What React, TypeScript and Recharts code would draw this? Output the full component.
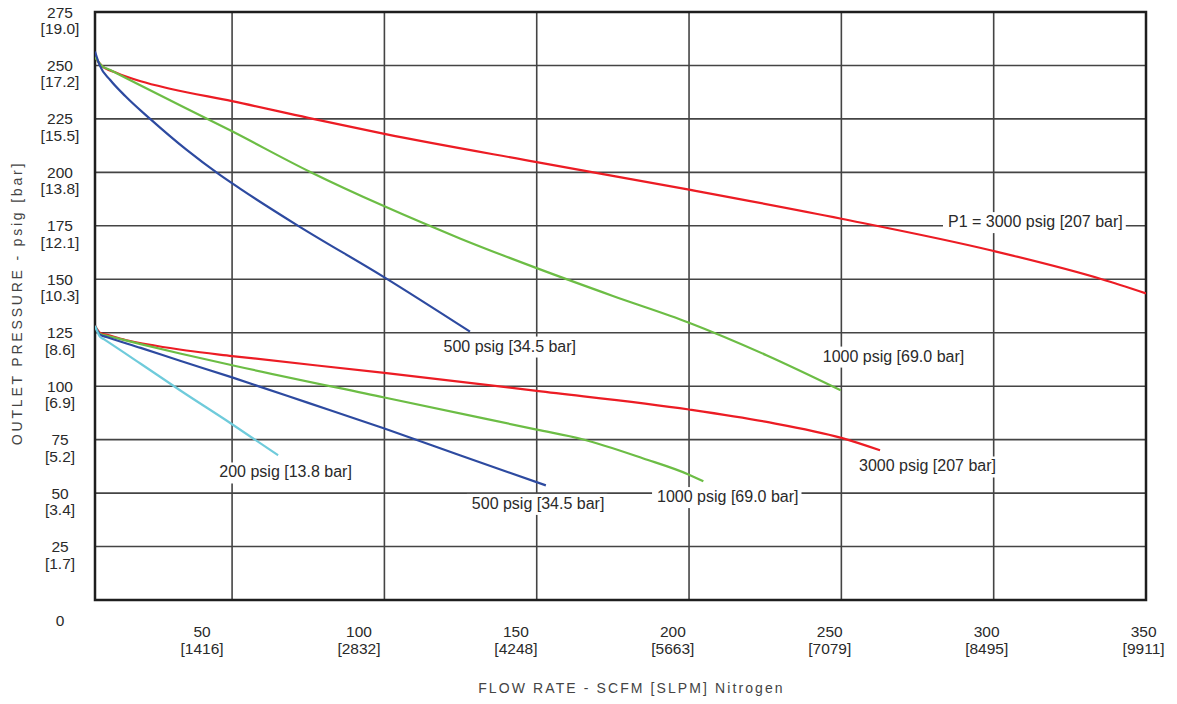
import { LineChart, Line, XAxis, YAxis, CartesianGrid, ReferenceArea, ReferenceDot } from 'recharts';

// axis ticks (SCFM with SLPM below, psig with bar below)
const X_TICKS = [50, 100, 150, 200, 250, 300, 350];
const X_TICK_SLPM = ['[1416]', '[2832]', '[4248]', '[5663]', '[7079]', '[8495]', '[9911]'];
const Y_TICKS = [0, 25, 50, 75, 100, 125, 150, 175, 200, 225, 250, 275];
const Y_TICK_BAR = ['', '[1.7]', '[3.4]', '[5.2]', '[6.9]', '[8.6]', '[10.3]', '[12.1]', '[13.8]', '[15.5]', '[17.2]', '[19.0]'];

// outlet set at 250 psig
const HIGH_3000 = [
  { x: 5, y: 254 }, { x: 7.1, y: 250 }, { x: 12, y: 246.6 }, { x: 20, y: 242.6 }, { x: 30, y: 239 },
  { x: 50, y: 233.3 }, { x: 75, y: 225.5 }, { x: 100, y: 218 }, { x: 150, y: 204.8 },
  { x: 200, y: 191.9 }, { x: 250, y: 178.3 }, { x: 300, y: 163.2 }, { x: 335.5, y: 150 },
  { x: 350, y: 143.4 },
];
const HIGH_1000 = [
  { x: 5, y: 254 }, { x: 7.1, y: 250 }, { x: 10, y: 247.9 }, { x: 20, y: 240.6 }, { x: 50, y: 219.2 },
  { x: 75.5, y: 200.3 }, { x: 100, y: 184.1 }, { x: 125, y: 169 }, { x: 150, y: 155.2 },
  { x: 175, y: 142.2 }, { x: 200, y: 129.7 }, { x: 225.4, y: 114.5 }, { x: 249.8, y: 98.1 },
];
const HIGH_500 = [
  { x: 5, y: 256.5 }, { x: 6.55, y: 250 }, { x: 10, y: 243.2 }, { x: 15, y: 235.6 }, { x: 23.1, y: 225 },
  { x: 35, y: 210.6 }, { x: 46, y: 198.8 }, { x: 52.6, y: 192.4 }, { x: 71.7, y: 175 },
  { x: 100, y: 150.9 }, { x: 128.1, y: 125.5 },
];

// outlet set at 125 psig
const LOW_3000 = [
  { x: 5, y: 128.2 }, { x: 6.7, y: 124.9 }, { x: 9, y: 124 }, { x: 15, y: 121.6 }, { x: 25, y: 118.9 },
  { x: 35, y: 116.7 }, { x: 50, y: 114.1 }, { x: 100, y: 106.25 }, { x: 150, y: 97.8 },
  { x: 200, y: 89.1 }, { x: 225, y: 83.4 }, { x: 250, y: 75.8 }, { x: 262.7, y: 70 },
];
const LOW_1000 = [
  { x: 5, y: 128.2 }, { x: 6.7, y: 124.4 }, { x: 9, y: 123.6 }, { x: 20, y: 119.7 }, { x: 32.9, y: 115.3 },
  { x: 50, y: 109.8 }, { x: 100, y: 94.7 }, { x: 150, y: 79.7 }, { x: 165, y: 75.2 },
  { x: 185, y: 66.2 }, { x: 200, y: 58.6 }, { x: 204.7, y: 55.5 },
];
const LOW_500 = [
  { x: 5, y: 128.2 }, { x: 6.7, y: 124 }, { x: 9, y: 122.9 }, { x: 20, y: 117.9 }, { x: 32.9, y: 111.9 },
  { x: 50, y: 104.1 }, { x: 75, y: 92.2 }, { x: 100, y: 80.2 }, { x: 125, y: 67.6 }, { x: 153, y: 53.6 },
];
const LOW_200 = [
  { x: 5, y: 128.2 }, { x: 6.6, y: 123.2 }, { x: 8, y: 121.9 }, { x: 20, y: 110.5 }, { x: 32.9, y: 98.1 },
  { x: 50, y: 82.2 }, { x: 65.1, y: 67.7 },
];

// curve annotations (left end of text baseline, in chart units)
const CURVE_LABELS = [
  { text: 'P1 = 3000 psig [207 bar]', x: 285, y: 174.4 },
  { text: '500 psig [34.5 bar]', x: 119.4, y: 116.2 },
  { text: '1000 psig [69.0 bar]', x: 243.9, y: 111.5 },
  { text: '3000 psig [207 bar]', x: 255.8, y: 60.1 },
  { text: '500 psig [34.5 bar]', x: 128.7, y: 42.6 },
  { text: '1000 psig [69.0 bar]', x: 189.5, y: 45.8 },
  { text: '200 psig [13.8 bar]', x: 45.8, y: 57.3 },
];

const RED = '#ec1c24';
const GREEN = '#6cbd45';
const BLUE = '#2d4aa0';
const CYAN = '#6fcbdb';
const TEXT = '#2a2a2a';
const FONT = '"Liberation Sans", Arial, sans-serif';
const TICK_SIZE = 15.5;
const LABEL_SIZE = 16;

let measureCtx: CanvasRenderingContext2D | null = null;
function textWidth(s: string) {
  if (!measureCtx) measureCtx = document.createElement('canvas').getContext('2d');
  if (!measureCtx) return s.length * 8;
  measureCtx.font = `${LABEL_SIZE}px "Liberation Sans"`;
  return measureCtx.measureText(s).width;
}

function XTick(props: any) {
  const { x, payload } = props;
  const i = X_TICKS.indexOf(payload.value);
  // printed labels drift left of their grid lines
  const cx = x - 30 + 4.6 * i;
  return (
    <g fontFamily={FONT} fontSize={TICK_SIZE} fill={TEXT} textAnchor="middle">
      <text x={cx} y={636.5}>{payload.value}</text>
      <text x={cx} y={653.5}>{X_TICK_SLPM[i]}</text>
    </g>
  );
}

function YTick(props: any) {
  const { y, payload } = props;
  const i = Y_TICKS.indexOf(payload.value);
  if (payload.value === 0) {
    return (
      <text x={60} y={y + 25.5} fontFamily={FONT} fontSize={TICK_SIZE} fill={TEXT} textAnchor="middle">0</text>
    );
  }
  return (
    <g fontFamily={FONT} fontSize={TICK_SIZE} fill={TEXT} textAnchor="middle">
      <text x={60} y={y + 5.5}>{payload.value}</text>
      <text x={60} y={y + 22}>{Y_TICK_BAR[i]}</text>
    </g>
  );
}

function curveLabel(text: string) {
  return (p: any) => {
    const w = textWidth(text);
    return (
      <g>
        <rect x={p.cx - 5} y={p.cy - 15} width={w + 8} height={21} fill="#fff" />
        <text x={p.cx} y={p.cy} fontFamily={FONT} fontSize={LABEL_SIZE} fill={TEXT}>{text}</text>
      </g>
    );
  };
}

export default function App() {
  const series = [
    { key: 'h3000', data: HIGH_3000, color: RED },
    { key: 'h1000', data: HIGH_1000, color: GREEN },
    { key: 'h500', data: HIGH_500, color: BLUE },
    { key: 'l3000', data: LOW_3000, color: RED },
    { key: 'l1000', data: LOW_1000, color: GREEN },
    { key: 'l500', data: LOW_500, color: BLUE },
    { key: 'l200', data: LOW_200, color: CYAN },
  ];

  return (
    <div style={{ position: 'absolute', left: 0, top: 0, width: 1177, height: 704, background: '#fff' }}>
      <LineChart width={1177} height={704} margin={{ top: 12, right: 31, bottom: 0, left: 0 }}>
        <CartesianGrid stroke="#444" strokeWidth={1.6} />
        <XAxis
          type="number"
          dataKey="x"
          domain={[5, 350]}
          ticks={X_TICKS}
          allowDataOverflow
          axisLine={false}
          tickLine={false}
          height={104}
          tick={<XTick />}
          label={{
            content: (p: any) => (
              <text
                x={p.viewBox.x + p.viewBox.width / 2 + 11}
                y={p.viewBox.y + 93}
                textAnchor="middle"
                fontFamily={FONT}
                fontSize={14}
                letterSpacing={2.1}
                fill="#444"
              >
                FLOW RATE - SCFM [SLPM] Nitrogen
              </text>
            ),
          }}
        />
        <YAxis
          type="number"
          domain={[0, 275]}
          ticks={Y_TICKS}
          allowDataOverflow
          axisLine={false}
          tickLine={false}
          width={95}
          tick={<YTick />}
          label={{
            content: (p: any) => {
              const cx = p.viewBox.x + 22;
              const cy = p.viewBox.y + p.viewBox.height / 2 - 3;
              return (
                <text
                  x={cx}
                  y={cy}
                  transform={`rotate(-90 ${cx} ${cy})`}
                  textAnchor="middle"
                  fontFamily={FONT}
                  fontSize={14}
                  letterSpacing={2.8}
                  fill="#444"
                >
                  OUTLET PRESSURE - psig [bar]
                </text>
              );
            },
          }}
        />
        {series.map(s => (
          <Line
            key={s.key}
            data={s.data}
            dataKey="y"
            type="monotone"
            stroke={s.color}
            strokeWidth={2.2}
            dot={false}
            activeDot={false}
            isAnimationActive={false}
          />
        ))}
        {CURVE_LABELS.map((l, i) => (
          <ReferenceDot key={i} x={l.x} y={l.y} r={0} shape={curveLabel(l.text)} />
        ))}
        <ReferenceArea x1={5} x2={350} y1={0} y2={275} fill="none" stroke="#1e1e1e" strokeWidth={2.5} />
      </LineChart>
    </div>
  );
}
